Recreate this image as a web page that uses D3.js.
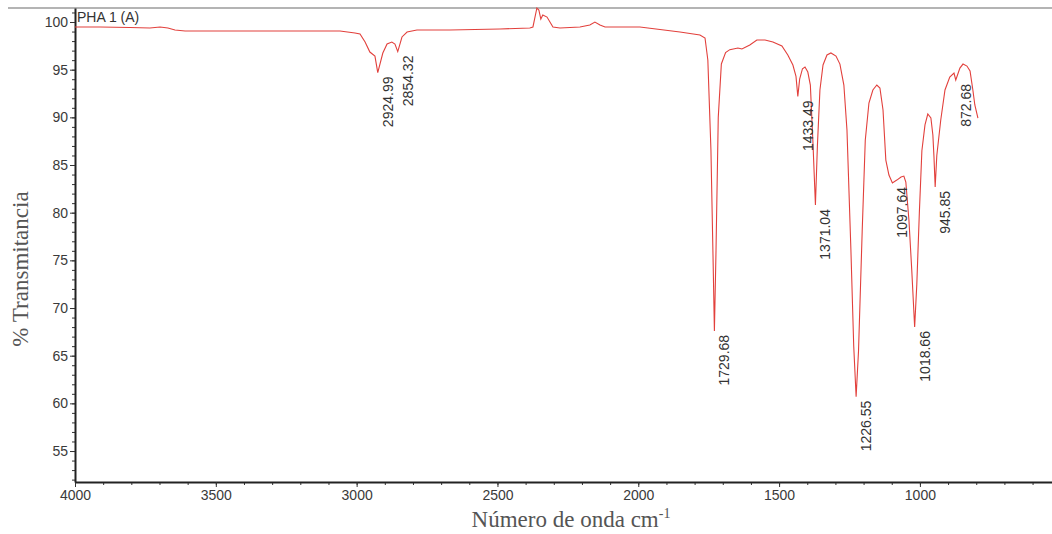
<!DOCTYPE html>
<html>
<head>
<meta charset="utf-8">
<script src="https://cdn.jsdelivr.net/npm/d3@7"></script>
<style>
  body { margin: 0; background: #fff; }
  svg { display: block; }
  .tick text { font-family: "Liberation Sans", Arial, sans-serif; font-size: 14px; fill: #3a3a3a; }
</style>
</head>
<body>
<svg id="chart" width="1052" height="534"></svg>
<script>
// IR spectrum
const wavenumber = [4000, 3911, 3805, 3734, 3698, 3670, 3645, 3609, 3379, 3201, 3059, 3006, 2988, 2970, 2953, 2935, 2925, 2907, 2892, 2875, 2864, 2854, 2839, 2821, 2786, 2669, 2491, 2385, 2374, 2360, 2353, 2346, 2339, 2324, 2303, 2278, 2207, 2172, 2154, 2136, 2118, 1994, 1852, 1781, 1763, 1753, 1742, 1734, 1729.7, 1724, 1716, 1705, 1690, 1675, 1646, 1632, 1604, 1579, 1550, 1522, 1490, 1469, 1451, 1440, 1433.5, 1427, 1417, 1408, 1398, 1389, 1380, 1371, 1364, 1355, 1344, 1330, 1316, 1298, 1284, 1270, 1259, 1245, 1235, 1226.5, 1218, 1205, 1194, 1181, 1167, 1153, 1142, 1131, 1121, 1110, 1097.6, 1082, 1067, 1057, 1050, 1039, 1029, 1023, 1018.7, 1011, 1002, 993, 982, 972, 961, 954, 950, 945.8, 940, 926, 911, 894, 879, 872.7, 858, 847, 833, 822, 812, 805, 794];
const transmittance = [99.48, 99.48, 99.42, 99.37, 99.48, 99.37, 99.16, 99.06, 99.06, 99.06, 99.06, 98.85, 98.74, 97.9, 96.85, 96.43, 94.7, 96.75, 97.69, 97.9, 97.69, 96.9, 98.43, 98.95, 99.16, 99.16, 99.27, 99.37, 99.48, 101.47, 101.26, 100.31, 100.73, 100.52, 99.48, 99.37, 99.48, 99.69, 100.0, 99.69, 99.48, 99.48, 98.95, 98.64, 98.32, 96.01, 86.57, 74.5, 67.6, 76.0, 90.0, 95.6, 96.8, 97.1, 97.27, 97.17, 97.59, 98.11, 98.11, 97.9, 97.48, 96.54, 95.49, 94.3, 92.2, 94.0, 95.1, 95.28, 94.75, 93.39, 87.5, 80.8, 87.0, 92.87, 95.49, 96.54, 96.75, 96.43, 95.59, 93.39, 88.67, 76.08, 66.0, 60.7, 65.5, 78.0, 87.6, 91.5, 92.87, 93.39, 93.08, 90.77, 85.52, 83.95, 83.11, 83.42, 83.74, 83.84, 83.21, 79.23, 74.0, 70.5, 68.0, 72.5, 80.0, 86.5, 89.2, 90.35, 89.93, 88.15, 85.8, 82.7, 86.0, 89.72, 92.87, 94.23, 94.65, 93.92, 95.17, 95.59, 95.38, 94.86, 92.87, 91.3, 89.93];

// labelled peaks
const peakWn = [2924.99, 2854.32, 1729.68, 1433.49, 1371.04, 1226.55, 1097.64, 1018.66, 945.85, 872.68];
const peakT = [94.7, 96.9, 67.6, 92.2, 80.8, 60.7, 83.11, 68.0, 82.7, 93.92];
const peakLabels = ["2924.99", "2854.32", "1729.68", "1433.49", "1371.04", "1226.55", "1097.64", "1018.66", "945.85", "872.68"];

const xTicks = [4000, 3500, 3000, 2500, 2000, 1500, 1000];
const yTicks = [55, 60, 65, 70, 75, 80, 85, 90, 95, 100];

const svg = d3.select("#chart");
const plotLeft = 75, plotRight = 1052, plotTop = 8, plotBottom = 482;

const x = d3.scaleLinear().domain([4000, 531]).range([plotLeft, plotRight]);
const y = d3.scaleLinear().domain([51.75, 101.47]).range([plotBottom, plotTop]);

// top frame line
svg.append("line")
  .attr("x1", 8).attr("x2", 1052).attr("y1", plotTop).attr("y2", plotTop)
  .attr("stroke", "#b4b4b4").attr("stroke-width", 2);

// minor ticks
svg.append("g").attr("transform", `translate(0,${plotBottom})`)
  .call(d3.axisBottom(x).tickValues(d3.range(4000, 530, -100)).tickSize(3).tickFormat(""))
  .call(g => g.select(".domain").remove())
  .selectAll("line").attr("stroke", "#333");
svg.append("g").attr("transform", `translate(${plotLeft},0)`)
  .call(d3.axisLeft(y).tickValues(d3.range(52, 102, 1)).tickSize(3).tickFormat(""))
  .call(g => g.select(".domain").remove())
  .selectAll("line").attr("stroke", "#333");

// major axes
const xAxis = svg.append("g").attr("transform", `translate(0,${plotBottom})`)
  .call(d3.axisBottom(x).tickValues(xTicks).tickFormat(d3.format("d")).tickSize(5).tickPadding(3).tickSizeOuter(0));
const yAxis = svg.append("g").attr("transform", `translate(${plotLeft},0)`)
  .call(d3.axisLeft(y).tickValues(yTicks).tickFormat(d3.format("d")).tickSize(5).tickPadding(2).tickSizeOuter(0));
[xAxis, yAxis].forEach(g => {
  g.select(".domain").attr("stroke", "#222").attr("stroke-width", 2);
  g.selectAll(".tick line").attr("stroke", "#333");
});

// spectrum
const pts = wavenumber.map((w, i) => [w, transmittance[i]]);
svg.append("path")
  .datum(pts)
  .attr("fill", "none")
  .attr("stroke", "#e2403c")
  .attr("stroke-width", 1.1)
  .attr("d", d3.line().x(d => x(d[0])).y(d => y(d[1])));

// peak labels
svg.append("g").selectAll("text")
  .data(peakLabels)
  .join("text")
  .attr("transform", (d, i) => `translate(${x(peakWn[i]) + 15},${y(peakT[i]) + 4}) rotate(-90)`)
  .attr("text-anchor", "end")
  .attr("font-family", "Liberation Sans, Arial, sans-serif")
  .attr("font-size", 14)
  .attr("fill", "#333")
  .text(d => d);

// title in plot
svg.append("text")
  .attr("x", 77).attr("y", 22)
  .attr("font-family", "Liberation Sans, Arial, sans-serif")
  .attr("font-size", 14).attr("fill", "#333")
  .text("PHA 1 (A)");

// axis titles
const xTitle = svg.append("text")
  .attr("x", 571).attr("y", 527)
  .attr("text-anchor", "middle")
  .attr("font-family", "Liberation Serif, Times New Roman, serif")
  .attr("font-size", 23).attr("fill", "#555");
xTitle.append("tspan").text("Número de onda cm");
xTitle.append("tspan").attr("font-size", 14).attr("dy", -9).text("-1");

svg.append("text")
  .attr("transform", "translate(28,269) rotate(-90)")
  .attr("text-anchor", "middle")
  .attr("font-family", "Liberation Serif, Times New Roman, serif")
  .attr("font-size", 23).attr("fill", "#555")
  .text("% Transmitancia");
</script>
</body>
</html>
